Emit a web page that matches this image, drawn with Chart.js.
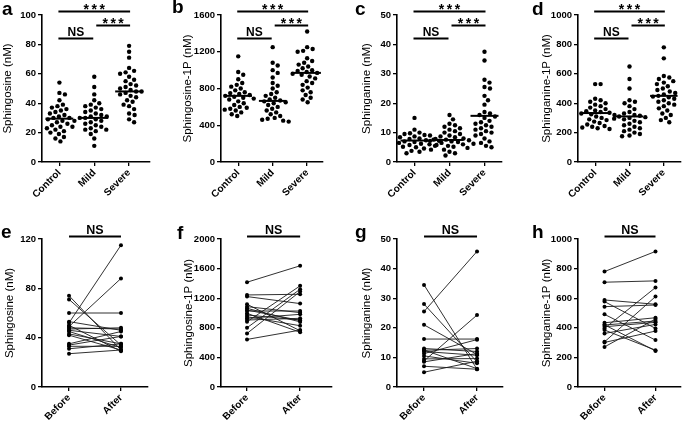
<!DOCTYPE html>
<html><head><meta charset="utf-8">
<script src="https://cdn.jsdelivr.net/npm/chart.js@4.4.1/dist/chart.umd.min.js"></script>
<style>
html,body{margin:0;padding:0;background:#fff;}
#wrap{position:relative;width:685px;height:422px;overflow:hidden;background:#fff;}
canvas{position:absolute;}
</style></head><body><div id="wrap"></div>
<script>
// ---------------- DATA ----------------
const groupLabels = ['Control', 'Mild', 'Severe'];
const pairLabels = ['Before', 'After'];

// a: Sphingosine (nM)
const sphingosineControl = [54, 47, 46, 42, 39, 38, 37, 36, 35, 34, 33, 32, 31, 30, 30, 29, 28, 28, 27, 26, 25, 24, 24, 23, 22, 21, 20, 19, 17, 16, 14];
const sphingosineMild = [58, 51, 46, 42, 40, 39, 38, 37, 36, 35, 34, 33, 32, 31, 31, 30, 30, 29, 28, 27, 26, 25, 24, 23, 22, 22, 21, 19, 16, 11];
const sphingosineSevere = [79, 75, 71, 64, 62, 61, 60, 58, 56, 55, 53, 52, 51, 50, 49, 48, 48, 47, 46, 45, 44, 42, 41, 39, 38, 36, 33, 32, 29, 27];
const sphingosineMedians = [29.5, 30, 48];
const sphingosineTicks = [0, 20, 40, 60, 80, 100];

// b: Sphingosine-1P (nM)
const s1pControl = [1150, 980, 950, 900, 860, 840, 820, 800, 780, 760, 750, 740, 730, 720, 710, 700, 690, 680, 660, 640, 620, 600, 590, 580, 570, 560, 540, 520, 500];
const s1pMild = [1250, 1080, 1050, 1000, 970, 920, 860, 830, 800, 760, 740, 720, 700, 680, 670, 660, 650, 640, 620, 600, 580, 560, 540, 520, 500, 480, 470, 460, 450, 440];
const s1pSevere = [1420, 1250, 1230, 1210, 1200, 1130, 1100, 1080, 1060, 1040, 1020, 1000, 990, 980, 970, 960, 950, 930, 910, 880, 860, 840, 810, 780, 760, 730, 700, 680, 650];
const s1pMedians = [720, 665, 970];
const s1pTicks = [0, 400, 800, 1200, 1600];

// c: Sphinganine (nM)
const sphinganineControl = [15, 11, 10, 9.8, 9.5, 9.2, 9, 8.7, 8.4, 8.2, 8, 7.8, 7.6, 7.4, 7.2, 7, 6.8, 6.5, 6.2, 6, 5.8, 5.5, 5.2, 5, 4.6, 4.2, 3.8, 3.5, 3];
const sphinganineMild = [16, 14.5, 13, 12.5, 12, 11.5, 11, 10.5, 10, 9.5, 9, 8.7, 8.4, 8, 7.8, 7.6, 7.4, 7.2, 7, 6.8, 6.5, 6.2, 6, 5.8, 5.5, 5.2, 4.8, 4.2, 3.5, 3, 2.2];
const sphinganineSevere = [37.5, 34.5, 28, 27, 25.5, 25, 22.5, 21, 19.5, 17, 16.5, 16, 15.5, 15, 14, 13.5, 13, 12.5, 12, 11.5, 11, 10.5, 10, 9.5, 9, 8, 7, 6.5, 5.5, 5];
const sphinganineMedians = [7.3, 7.5, 15.7];
const sphinganineTicks = [0, 10, 20, 30, 40, 50];

// d: Sphinganine-1P (nM)
const sa1pControl = [530, 530, 430, 420, 410, 400, 390, 380, 370, 360, 350, 345, 340, 335, 330, 325, 320, 310, 300, 290, 285, 275, 265, 255, 245, 240, 235, 230, 225];
const sa1pMild = [650, 565, 500, 420, 410, 400, 380, 360, 340, 330, 320, 315, 310, 305, 300, 295, 290, 280, 270, 260, 250, 240, 230, 220, 210, 200, 190, 180, 175];
const sa1pSevere = [780, 705, 585, 575, 565, 550, 540, 530, 515, 500, 490, 480, 470, 460, 450, 445, 440, 430, 420, 410, 400, 390, 380, 365, 350, 330, 320, 300, 285, 270];
const sa1pMedians = [333, 310, 450];
const sa1pTicks = [0, 200, 400, 600, 800, 1000];

// e-h: paired Before / After
const sphingosineBefore = [74, 71, 60, 53, 52, 50, 49, 48, 47, 46, 45, 43, 42, 35, 34, 33, 31, 27];
const sphingosineAfter  = [30, 34, 60, 46, 115, 29, 88, 47, 48, 41, 32, 35, 30, 45, 41, 33, 35, 30];
const sphingosinePairTicks = [0, 40, 80, 120];

const s1pBefore = [1416, 1244, 1222, 1118, 1086, 1063, 1040, 1027, 995, 973, 950, 928, 905, 882, 801, 724, 643];
const s1pAfter  = [1638, 1253, 1127, 760, 1005, 880, 900, 1027, 740, 905, 828, 982, 928, 1367, 1321, 1290, 769];
const s1pPairTicks = [0, 400, 800, 1200, 1600, 2000];

const sphinganineBefore = [34.5, 28, 25.5, 21, 16.2, 13, 12.5, 12.4, 12, 11.3, 10.5, 9.5, 8.8, 8.5, 7, 5];
const sphinganineAfter  = [6, 8.5, 45.8, 11, 16.2, 12, 6.2, 13, 10.7, 16, 8, 9.6, 24.3, 11.3, 6, 8.7];
const sphinganinePairTicks = [0, 10, 20, 30, 40, 50];

const sa1pBefore = [780, 708, 588, 577, 543, 491, 434, 420, 419, 407, 396, 385, 362, 305, 301, 271];
const sa1pAfter  = [916, 717, 559, 396, 554, 317, 468, 244, 446, 437, 672, 249, 423, 611, 378, 459];
const sa1pPairTicks = [0, 200, 400, 600, 800, 1000];

const groupSigLabels = ['***', '***', 'NS'];   // Control-Severe, Mild-Severe, Control-Mild
const pairSigLabel = 'NS';

// ---------------- LAYOUT / STYLE ----------------
const FONT = '"Liberation Sans", Arial, Helvetica, sans-serif';
Chart.defaults.font.family = FONT;
Chart.defaults.color = '#000';

const geo = {
  a: {left: 0,   top: 0,   w: 170, h: 205, padL: 1,  padT: 15, padR: 20, yW: 41, xH: 43, xMin: -0.5,  xMax: 2.6,  lx: 2,  ly: 15, tOff: 0},
  b: {left: 170, top: 0,   w: 170, h: 205, padL: 11, padT: 15, padR: 17, yW: 40, xH: 43, xMin: -0.5,  xMax: 2.46, lx: 2,  ly: 13, tOff: 0},
  c: {left: 340, top: 0,   w: 170, h: 205, padL: 20, padT: 15, padR: 8,  yW: 37, xH: 43, xMin: -0.5,  xMax: 2.5,  lx: 15, ly: 15, tOff: 0},
  d: {left: 510, top: 0,   w: 175, h: 205, padL: 30, padT: 15, padR: 3,  yW: 38, xH: 43, xMin: -0.5,  xMax: 2.5,  lx: 22, ly: 15, tOff: 0},
  e: {left: 0,   top: 205, w: 170, h: 217, padL: 3,  padT: 34, padR: 22, yW: 39, xH: 35, xMin: -0.52, xMax: 1.52, lx: 1,  ly: 33, tOff: 0},
  f: {left: 170, top: 205, w: 170, h: 217, padL: 12, padT: 34, padR: 8,  yW: 39, xH: 35, xMin: -0.49, xMax: 1.6,  lx: 7,  ly: 34, tOff: 0},
  g: {left: 340, top: 205, w: 170, h: 217, padL: 20, padT: 34, padR: 7,  yW: 37, xH: 35, xMin: -0.51, xMax: 1.49, lx: 15, ly: 33, tOff: 0},
  h: {left: 510, top: 205, w: 175, h: 217, padL: 30, padT: 34, padR: 2,  yW: 38, xH: 35, xMin: -0.52, xMax: 1.5,  lx: 22, ly: 33, tOff: 0}
};

const panels = [
  {id: 'a', kind: 'group', title: 'Sphingosine (nM)', groups: [sphingosineControl, sphingosineMild, sphingosineSevere], medians: sphingosineMedians, ticks: sphingosineTicks},
  {id: 'b', kind: 'group', title: 'Sphingosine-1P (nM)', groups: [s1pControl, s1pMild, s1pSevere], medians: s1pMedians, ticks: s1pTicks},
  {id: 'c', kind: 'group', title: 'Sphinganine (nM)', groups: [sphinganineControl, sphinganineMild, sphinganineSevere], medians: sphinganineMedians, ticks: sphinganineTicks},
  {id: 'd', kind: 'group', title: 'Sphinganine-1P (nM)', groups: [sa1pControl, sa1pMild, sa1pSevere], medians: sa1pMedians, ticks: sa1pTicks},
  {id: 'e', kind: 'pair', title: 'Sphingosine (nM)', before: sphingosineBefore, after: sphingosineAfter, ticks: sphingosinePairTicks},
  {id: 'f', kind: 'pair', title: 'Sphingosine-1P (nM)', before: s1pBefore, after: s1pAfter, ticks: s1pPairTicks},
  {id: 'g', kind: 'pair', title: 'Sphinganine (nM)', before: sphinganineBefore, after: sphinganineAfter, ticks: sphinganinePairTicks},
  {id: 'h', kind: 'pair', title: 'Sphinganine-1P (nM)', before: sa1pBefore, after: sa1pAfter, ticks: sa1pPairTicks}
];

const DOT_R = 2.2;
const DOT_D = 5.4;

// beeswarm: horizontal offsets (in x units) so dots do not overlap
function swarmOffsets(vals, yPerUnit, xPerUnit, diam) {
  const idx = vals.map((_, i) => i).sort((i, j) => vals[j] - vals[i]);
  const placed = [];
  const out = new Array(vals.length).fill(0);
  idx.forEach(i => {
    const py = vals[i] * yPerUnit;
    let chosen = 0;
    for (let s = 0; s < 400; s++) {
      const c = (s === 0) ? 0 : (s % 2 ? 1 : -1) * Math.ceil(s / 2) * 0.5;
      if (placed.every(p => (p.x - c) * (p.x - c) + (p.y - py) * (p.y - py) >= diam * diam)) { chosen = c; break; }
    }
    placed.push({x: chosen, y: py});
    out[i] = chosen / xPerUnit;
  });
  return out;
}

const annotPlugin = {
  id: 'annot',
  afterDatasetsDraw(chart) {
    const o = chart.options.plugins.annot;
    const {ctx} = chart;
    const x = chart.scales.x, y = chart.scales.y;
    const yMax = y.max;
    ctx.save();
    ctx.strokeStyle = '#000';
    ctx.fillStyle = '#000';
    ctx.lineCap = 'butt';
    if (o.medians) {
      ctx.lineWidth = 2;
      o.medians.forEach((m, i) => {
        const py = y.getPixelForValue(m);
        ctx.beginPath();
        ctx.moveTo(x.getPixelForValue(i - 0.4), py);
        ctx.lineTo(x.getPixelForValue(i + 0.4), py);
        ctx.stroke();
      });
    }
    ctx.lineWidth = 1.8;
    o.bars.forEach(b => {
      const py = Math.round(y.getPixelForValue(b.level * yMax)) + 0.5;
      const x0 = x.getPixelForValue(b.from) + (b.padFrom || 0);
      const x1 = x.getPixelForValue(b.to) + (b.padTo || 0);
      ctx.beginPath();
      ctx.moveTo(x0, py);
      ctx.lineTo(x1, py);
      ctx.stroke();
      ctx.textAlign = 'center';
      ctx.textBaseline = 'alphabetic';
      ctx.font = 'bold ' + b.size + 'px ' + FONT;
      if (b.text === 'NS') {
        ctx.letterSpacing = '0px';
        ctx.fillText(b.text, (x0 + x1) / 2, py - 3);
      } else {
        ctx.letterSpacing = '2.5px';
        ctx.fillText(b.text, (x0 + x1) / 2 + 1.2, py + 2);
        ctx.letterSpacing = '0px';
      }
    });
    ctx.font = 'bold 19px ' + FONT;
    ctx.textAlign = 'left';
    ctx.textBaseline = 'alphabetic';
    ctx.fillText(o.letter, o.lx, o.ly);
    ctx.restore();
  }
};

const wrap = document.getElementById('wrap');

panels.forEach(p => {
  const g = geo[p.id];
  const cv = document.createElement('canvas');
  cv.width = g.w; cv.height = g.h;
  cv.style.left = g.left + 'px'; cv.style.top = g.top + 'px';
  cv.style.width = g.w + 'px'; cv.style.height = g.h + 'px';
  wrap.appendChild(cv);

  const yMax = p.ticks[p.ticks.length - 1];
  const plotH = g.h - g.xH - g.padT;
  const plotW = g.w - g.padL - g.yW - g.padR;
  const xPerUnit = plotW / (g.xMax - g.xMin);
  const yPerUnit = plotH / yMax;

  let datasets = [], labels, bars, medians = null;
  if (p.kind === 'group') {
    labels = groupLabels;
    p.groups.forEach((vals, gi) => {
      const off = swarmOffsets(vals, yPerUnit, xPerUnit, DOT_D);
      datasets.push({
        data: vals.map((v, k) => ({x: gi + off[k], y: v})),
        backgroundColor: '#000', borderWidth: 0, pointRadius: DOT_R, showLine: false
      });
    });
    medians = p.medians;
    bars = [
      {from: 0, to: 2, level: 1.027, text: groupSigLabels[0], size: 14, padFrom: -1, padTo: 1},
      {from: 1, to: 2, level: 0.932, text: groupSigLabels[1], size: 14, padFrom: 2, padTo: 1},
      {from: 0, to: 1, level: 0.844, text: groupSigLabels[2], size: 12, padFrom: -1, padTo: -1}
    ];
  } else {
    labels = pairLabels;
    p.before.forEach((b, k) => {
      datasets.push({
        data: [{x: 0, y: b}, {x: 1, y: p.after[k]}],
        showLine: true, borderColor: '#1a1a1a', borderWidth: 0.9,
        backgroundColor: '#000', pointBackgroundColor: '#000', pointBorderWidth: 0, pointRadius: 2
      });
    });
    bars = [{from: 0, to: 1, level: 1.02, text: pairSigLabel, size: 12.5, padFrom: 0, padTo: 0}];
  }

  new Chart(cv, {
    type: 'scatter',
    data: {datasets},
    plugins: [annotPlugin],
    options: {
      responsive: false,
      animation: false,
      layout: {padding: {left: g.padL, top: g.padT, right: g.padR, bottom: 0}},
      plugins: {
        legend: {display: false},
        tooltip: {enabled: false},
        annot: {medians, bars, letter: p.id, lx: g.lx, ly: g.ly}
      },
      scales: {
        x: {
          type: 'linear', min: g.xMin, max: g.xMax,
          afterBuildTicks: s => { s.ticks = labels.map((_, i) => ({value: i})); },
          afterFit: s => { s.height = g.xH; },
          ticks: {
            autoSkip: false, maxRotation: 45, minRotation: 45, padding: 1,
            font: {size: 10, weight: 'bold'}, color: '#000',
            callback: v => labels[v]
          },
          grid: {display: true, drawOnChartArea: false, drawTicks: true, tickLength: 4, color: '#000', lineWidth: 1.3},
          border: {display: true, color: '#000', width: 1.6}
        },
        y: {
          type: 'linear', min: 0, max: yMax,
          afterBuildTicks: s => { s.ticks = p.ticks.map(v => ({value: v})); },
          afterFit: s => { s.width = g.yW; },
          ticks: {font: {size: 9.5, weight: 'bold'}, color: '#000', padding: 2, callback: v => String(v)},
          grid: {display: true, drawOnChartArea: false, drawTicks: true, tickLength: 4, color: '#000', lineWidth: 1.3},
          border: {display: true, color: '#000', width: 1.6},
          title: {display: true, text: p.title, font: {size: 11.5}, color: '#000', padding: 0}
        }
      }
    }
  });
});
</script>
</body></html>
